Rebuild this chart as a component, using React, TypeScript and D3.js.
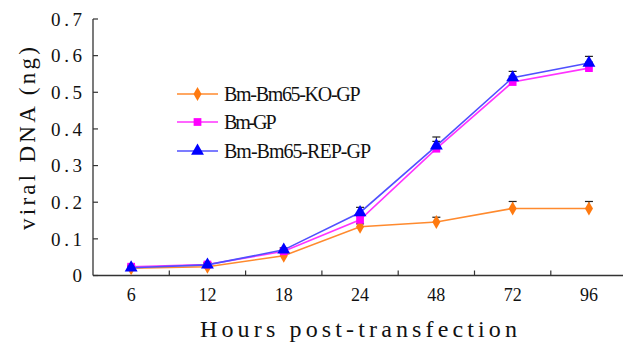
import React from "react";
import * as d3 from "d3";

const categories = ["6", "12", "18", "24", "48", "72", "96"];
const yTicks = [0, 0.1, 0.2, 0.3, 0.4, 0.5, 0.6, 0.7];
const koValues = [0.02, 0.024, 0.054, 0.133, 0.146, 0.183, 0.183];
const koErrors = [0.004, 0.004, 0.006, 0.008, 0.013, 0.019, 0.019];
const gpValues = [0.024, 0.03, 0.066, 0.152, 0.346, 0.528, 0.566];
const gpErrors = [0.004, 0.004, 0.006, 0.01, 0.02, 0.016, 0.016];
const repValues = [0.021, 0.029, 0.07, 0.172, 0.354, 0.54, 0.58];
const repErrors = [0.004, 0.005, 0.006, 0.014, 0.024, 0.017, 0.018];
const seriesNames = ["Bm-Bm65-KO-GP", "Bm-GP", "Bm-Bm65-REP-GP"];

const FONT = "'Liberation Serif', 'DejaVu Serif', serif";

export default function App() {
  const W = 623, H = 343;
  const left = 93, bottom = 275.5, top = 19;
  const band = 76.3;
  const x = d3.scaleBand().domain(categories).range([left, left + band * categories.length]);
  const y = d3.scaleLinear().domain([0, 0.7]).range([bottom, top]);
  const cx = (c: string) => (x(c) as number) + x.bandwidth() / 2;

  const series = [
    { name: seriesNames[0], values: koValues, errors: koErrors, line: "#FF8A2E", fill: "#FF7A10", shape: "diamond" },
    { name: seriesNames[1], values: gpValues, errors: gpErrors, line: "#FF33FF", fill: "#FF00FF", shape: "square" },
    { name: seriesNames[2], values: repValues, errors: repErrors, line: "#5050FF", fill: "#0000FF", shape: "triangle" },
  ];

  const lineGen = d3.line<number>().x((_, i) => cx(categories[i])).y((v) => y(v));
  const symbolPath = (shape: string) => {
    if (shape === "diamond") return d3.symbol(d3.symbolDiamond, 56)();
    if (shape === "square") return d3.symbol(d3.symbolSquare, 60)();
    return d3.symbol(d3.symbolTriangle, 72)();
  };

  const legendX = 177, legendY = [94, 122, 151];

  return (
    <svg width={W} height={H} style={{ display: "block", position: "absolute", left: 0, top: 0, background: "#fff" }}>
      <rect width={W} height={H} fill="#fff" />
      <line x1={left} x2={left} y1={top} y2={bottom} stroke="#333" strokeWidth={1.3} />
      <line x1={left} x2={W} y1={bottom} y2={bottom} stroke="#333" strokeWidth={1.3} />
      {yTicks.map((t) => (
        <g key={t}>
          <line x1={left} x2={left + 5} y1={y(t)} y2={y(t)} stroke="#333" strokeWidth={1.2} />
          {t === 0 ? (
            <text x={82} y={y(t)} dy="0.36em" textAnchor="end" fontFamily={FONT} fontSize={19} fill="#111">0</text>
          ) : (
            <text x={51} y={y(t)} dy="0.36em" fontFamily={FONT} fontSize={19} fill="#111" textLength={31} lengthAdjust="spacing">
              {t.toFixed(1)}
            </text>
          )}
        </g>
      ))}
      {categories.slice(1).map((c) => (
        <line key={c} x1={x(c) as number} x2={x(c) as number} y1={bottom} y2={bottom - 5} stroke="#333" strokeWidth={1.2} />
      ))}
      {categories.map((c) => (
        <text key={c} x={cx(c)} y={295} dy="0.36em" textAnchor="middle" fontFamily={FONT} fontSize={18} fill="#111">
          {c}
        </text>
      ))}
      <text x={200} y={328} dy="0.36em" fontFamily={FONT} fontSize={24} fill="#111" textLength={317} lengthAdjust="spacing">
        Hours post-transfection
      </text>
      <text transform={`translate(27,230) rotate(-90)`} dy="0.36em" fontFamily={FONT} fontSize={23} fill="#111" textLength={183} lengthAdjust="spacing">
        viral DNA (ng)
      </text>

      {series.map((s) => (
        <g key={s.name}>
          {s.values.map((v, i) => (
            <g key={i}>
              <line x1={cx(categories[i])} x2={cx(categories[i])} y1={y(v)} y2={y(v + s.errors[i])} stroke="#222" strokeWidth={1} />
              <line x1={cx(categories[i]) - 4} x2={cx(categories[i]) + 4} y1={y(v + s.errors[i])} y2={y(v + s.errors[i])} stroke="#222" strokeWidth={1.2} />
            </g>
          ))}
        </g>
      ))}
      {series.map((s) => (
        <g key={s.name + "l"}>
          <path d={lineGen(s.values) || ""} fill="none" stroke={s.line} strokeWidth={1.6} />
          {s.values.map((v, i) => (
            <path key={i} d={symbolPath(s.shape) || ""} transform={`translate(${cx(categories[i])},${y(v)})`} fill={s.fill} />
          ))}
        </g>
      ))}

      {series.map((s, i) => (
        <g key={s.name + "g"}>
          <line x1={legendX} x2={legendX + 41} y1={legendY[i]} y2={legendY[i]} stroke={s.line} strokeWidth={1.6} />
          <path d={symbolPath(s.shape) || ""} transform={`translate(${legendX + 20.5},${legendY[i]})`} fill={s.fill} />
          <text x={legendX + 47} y={legendY[i]} dy="0.36em" fontFamily={FONT} fontSize={20} fill="#111"
            textLength={s.name.length * 10.5} lengthAdjust="spacing">
            {s.name}
          </text>
        </g>
      ))}
    </svg>
  );
}
